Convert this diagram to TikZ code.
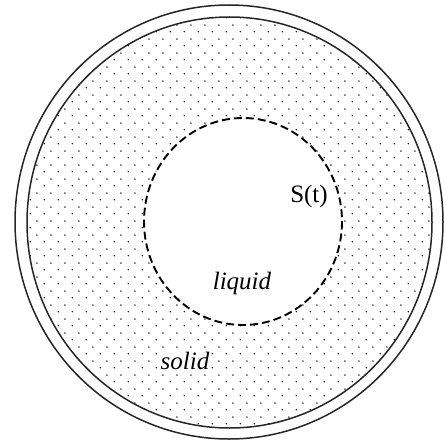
\documentclass[tikz,border=0pt]{standalone}
\usepackage{fontspec}
\setmainfont{Liberation Serif}
\usetikzlibrary{patterns}

% staggered dot grid for the solid region
\pgfdeclarepatternformonly{soliddots}{\pgfpointorigin}{\pgfpoint{13.6pt}{13.6pt}}{\pgfpoint{13.6pt}{13.6pt}}{%
  \pgfpathcircle{\pgfpoint{3.4pt}{3.4pt}}{0.8pt}%
  \pgfpathcircle{\pgfpoint{10.2pt}{10.2pt}}{0.8pt}%
  \pgfusepath{fill}}

\tikzset{
  wall/.style={line width=1.5pt, black!85},
  front/.style={line width=1.9pt, dash pattern=on 8pt off 4pt},
  phase/.style={font=\fontsize{25}{27}\selectfont\itshape, inner sep=2pt},
}

\begin{document}
\begin{tikzpicture}[x=1pt, y=-1pt]
  \useasboundingbox (0,0) rectangle (444,441);
  \coordinate (C) at (229,222);
  \coordinate (L) at (243,221.5);

  % solid shell with dots
  \fill[pattern=soliddots, pattern color=black, even odd rule]
    (229.5,222.5) ellipse [x radius=202.5, y radius=205.5]
    (L) ellipse [x radius=99, y radius=103.5];

  % walls
  \draw[wall] (C) ellipse [x radius=214, y radius=217];
  \draw[wall] (229.5,222.5) ellipse [x radius=202.5, y radius=205.5];

  % free boundary
  \draw[front] (L) ellipse [x radius=99, y radius=103.5];

  \node[font=\fontsize{25}{27}\selectfont, inner sep=0pt] (st) at (309,196) {S(t)};
  \node[phase] (liq) at (242,283) {liquid};
  \node[phase, fill=white] (sol) at (185,361) {solid};
\end{tikzpicture}
\end{document}
